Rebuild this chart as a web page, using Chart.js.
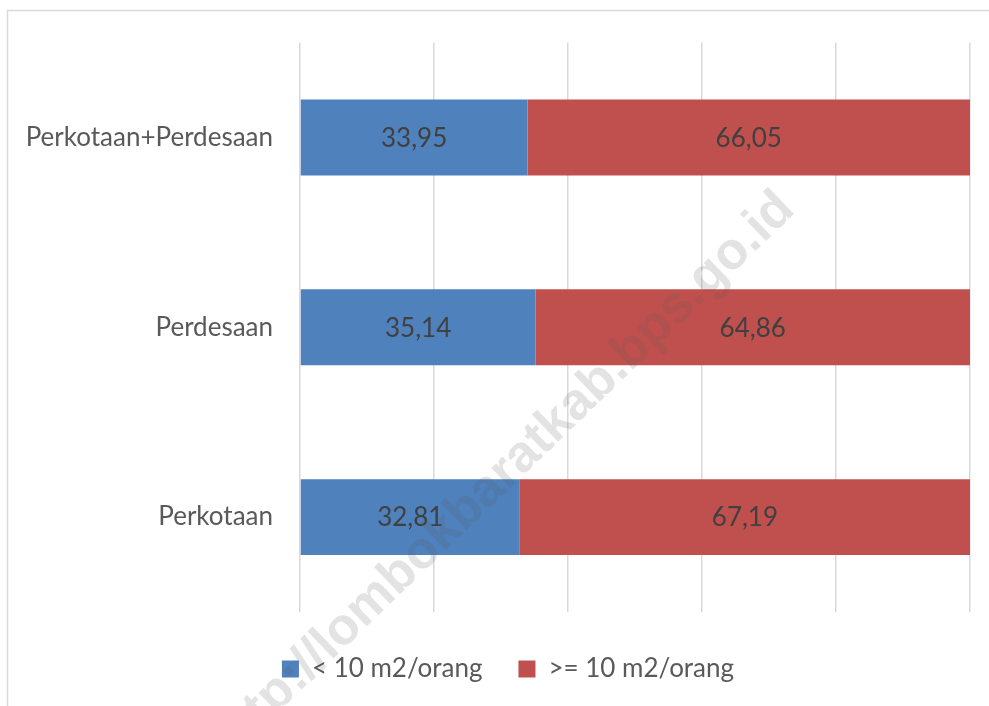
<!DOCTYPE html>
<html>
<head>
<meta charset="utf-8">
<script src="https://cdn.jsdelivr.net/npm/chart.js@4"></script>
<style>
  html, body { margin: 0; padding: 0; background: #fff; }
  #wrap { width: 989px; height: 706px; }
</style>
</head>
<body>
<div id="wrap"><canvas id="chart"></canvas></div>
<script>
const categories = ['Perkotaan+Perdesaan', 'Perdesaan', 'Perkotaan'];
const lessThan10 = [33.95, 35.14, 32.81];
const atLeast10 = [66.05, 64.86, 67.19];
const seriesNames = ['< 10 m2/orang', '>= 10 m2/orang'];
const xTicks = [0, 20, 40, 60, 80, 100];

const FONT = 'Lato, "Open Sans", sans-serif';

// frame + watermark + value labels, legend nudged right like the original
const decor = {
    id: 'decor',
    afterLayout(chart) {
        if (chart.legend) {
            chart.legend.left += 23;
            chart.legend.right += 23;
        }
    },
    beforeDraw(chart) {
        const ctx = chart.ctx;
        ctx.save();
        ctx.strokeStyle = '#d9d9d9';
        ctx.lineWidth = 1.5;
        ctx.strokeRect(7.5, 10.5, 1200, 1200);
        ctx.restore();
    },
    afterDatasetsDraw(chart) {
        const ctx = chart.ctx;
        ctx.save();
        ctx.font = '26px ' + FONT;
        ctx.fillStyle = '#404040';
        ctx.textAlign = 'center';
        ctx.textBaseline = 'middle';
        chart.data.datasets.forEach((ds, i) => {
            chart.getDatasetMeta(i).data.forEach((bar, j) => {
                const mid = (bar.x + bar.base) / 2;
                ctx.fillText(ds.data[j].toFixed(2).replace('.', ','), mid, bar.y + 1);
            });
        });
        ctx.restore();
    },
    afterDraw(chart) {
        const ctx = chart.ctx;
        ctx.save();
        ctx.translate(502, 476);
        ctx.rotate(-44 * Math.PI / 180);
        ctx.font = 'bold 52px "Liberation Sans", Arial, sans-serif';
        ctx.fillStyle = 'rgba(90,90,90,0.17)';
        ctx.textAlign = 'center';
        ctx.textBaseline = 'middle';
        ctx.fillText('http://lombokbaratkab.bps.go.id', 0, 0);
        ctx.restore();
    }
};

new Chart(document.getElementById('chart'), {
    type: 'bar',
    data: {
        labels: categories,
        datasets: [
            { label: seriesNames[0], data: lessThan10, backgroundColor: '#4f81bd' },
            { label: seriesNames[1], data: atLeast10, backgroundColor: '#c0504d' }
        ]
    },
    options: {
        indexAxis: 'y',
        responsive: true,
        maintainAspectRatio: false,
        animation: false,
        layout: { padding: { top: 38, right: 19, bottom: 14, left: 0 } },
        datasets: { bar: { categoryPercentage: 1, barPercentage: 0.4 } },
        scales: {
            x: {
                stacked: true,
                min: 0,
                max: 100,
                afterBuildTicks(scale) { scale.ticks = xTicks.map(v => ({ value: v })); },
                afterFit(scale) { scale.height = 8; },
                ticks: { display: false },
                grid: { color: '#d9d9d9', lineWidth: 1.5, drawTicks: false },
                border: { display: false }
            },
            y: {
                stacked: true,
                afterFit(scale) { scale.width = 300; },
                ticks: { color: '#595959', font: { family: FONT, size: 26 }, padding: 27 },
                grid: { display: false, drawTicks: false },
                border: { display: false }
            }
        },
        plugins: {
            tooltip: { enabled: false },
            legend: {
                position: 'bottom',
                labels: {
                    color: '#595959',
                    font: { family: FONT, size: 26 },
                    boxWidth: 17,
                    boxHeight: 17,
                    padding: 36
                }
            }
        }
    },
    plugins: [decor]
});
</script>
</body>
</html>
